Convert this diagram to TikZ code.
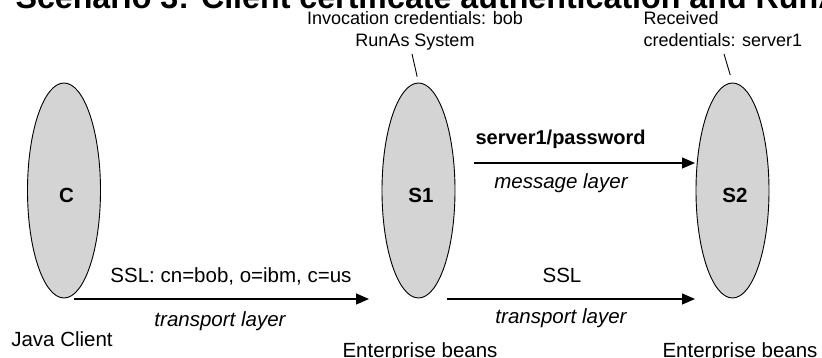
\documentclass[tikz,border=0pt]{standalone}
\usepackage{fontspec}
\setmainfont{Liberation Sans}
\usetikzlibrary{arrows.meta,shapes.geometric}

\tikzset{
  bean/.style={draw, ellipse, fill=black!17, line width=0.9pt, minimum width=73pt, minimum height=215pt, inner sep=0pt},
  beanname/.style={font=\bfseries\fontsize{20.5}{20.5}\selectfont, xshift=2.5pt, yshift=-4.5pt},
  flow/.style={-{Triangle[length=13pt,width=11pt]}, line width=1.2pt},
  txt/.style={anchor=base, font=\fontsize{20.5}{24}\selectfont},
  note/.style={anchor=base, font=\fontsize{18}{22.7}\selectfont},
}

\begin{document}
\begin{tikzpicture}[x=1pt,y=-1pt]
        \useasboundingbox (0,0) rectangle (822,358);
        \node[anchor=base west, font=\bfseries\fontsize{32.2}{32.2}\selectfont] (title) at (12,8.5) {Scenario 3: Client certificate authentication and RunAs system};

        \node[bean, label={[beanname]center:C}] (C) at (64,190.5) {};
        \node[bean, label={[beanname]center:S1}] (S1) at (418.5,190.5) {};
        \node[bean, label={[beanname]center:S2}] (S2) at (732.5,190.5) {};

        \node[note, align=center] (inv) at (415,47) {Invocation credentials: bob\\RunAs System};
        \node[note, align=left, anchor=base west] (recv) at (640,47) {Received\\credentials: server1};
        \coordinate (t1) at (412,54);
        \coordinate (t2) at (724,54);
        \draw[line width=0.9pt, shorten >=6pt] (t1) -- (S1.north);
        \draw[line width=0.9pt, shorten >=8pt] (t2) -- (S2.north);

        \coordinate (a1) at (74,299);
        \coordinate (b1) at (369,299);
        \coordinate (a2) at (474,163);
        \coordinate (b2) at (695,163);
        \coordinate (a3) at (447,299);
        \coordinate (b3) at (695,299);
        \draw[flow] (a1) -- (b1);
        \draw[flow] (a2) -- (b2);
        \draw[flow] (a3) -- (b3);

        \node[txt] (ssl1) at (231,282) {SSL: cn=bob, o=ibm, c=us};
        \node[txt] (tl1) at (220,326) {\itshape transport layer};
        \node[txt, anchor=base west, font=\bfseries\fontsize{20}{24}\selectfont] (pw) at (472,145) {server1/password};
        \node[txt] (ml) at (561,189) {\itshape message layer};
        \node[txt] (ssl2) at (562,283) {SSL};
        \node[txt] (tl2) at (561,323) {\itshape transport layer};

        \node[txt] (jc) at (62,346) {Java Client};
        \node[txt] (eb1) at (420,357) {Enterprise beans};
        \node[txt] (eb2) at (740,357) {Enterprise beans};
    \end{tikzpicture}
\end{document}
